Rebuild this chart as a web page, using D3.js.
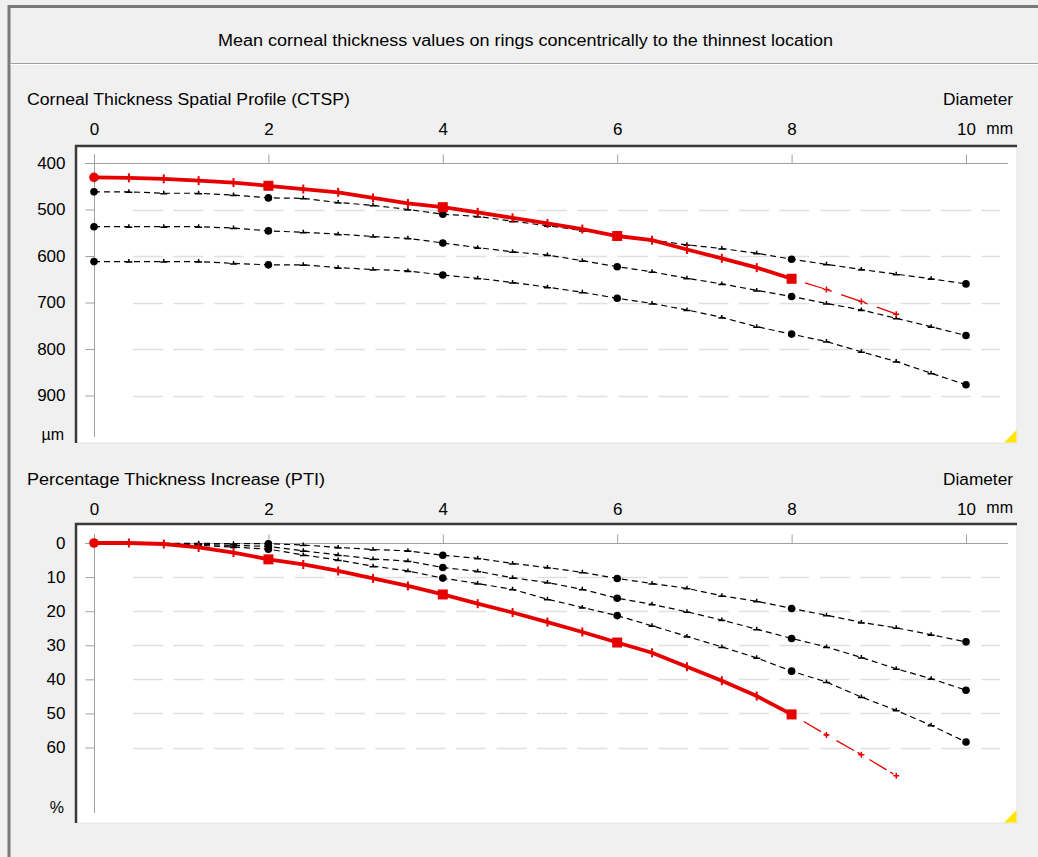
<!DOCTYPE html>
<html>
<head>
<meta charset="utf-8">
<script src="https://cdn.jsdelivr.net/npm/d3@7"></script>
<style>
  body { margin: 0; background: #f0f0f0; }
  svg { display: block; font-family: "Liberation Sans", Arial, sans-serif; }
  .tick text { font-size: 17px; fill: #000; }
</style>
</head>
<body>
<svg id="chart" width="1038" height="857"></svg>
<script>
// ring diameters in mm (every 0.4 mm)
var diameters = [0, 0.4, 0.8, 1.2, 1.6, 2, 2.4, 2.8, 3.2, 3.6, 4, 4.4, 4.8, 5.2, 5.6, 6,
  6.4, 6.8, 7.2, 7.6, 8, 8.4, 8.8, 9.2, 9.6, 10];
var extDiameters = [8, 8.4, 8.8, 9.2];
var xTicks = [0, 2, 4, 6, 8, 10];

// CTSP, micrometres
var ctspTicks = [400, 500, 600, 700, 800, 900];
var ctspPatient = [431, 432, 434, 438, 442, 449, 456, 463, 475, 487, 495, 506, 518, 530, 542, 557,
  566, 586, 605, 625, 649];
var ctspPatientExt = [649, 672, 698, 725];
var ctspNormA = [462, 462, 465, 465, 469, 475, 476, 485, 491, 500, 510, 515, 525, 535, 545, 556,
  566, 576, 584, 594, 607, 618, 629, 639, 649, 660];
var ctspNormB = [537, 537, 537, 537, 540, 546, 549, 553, 558, 562, 572, 582, 591, 598, 610, 623,
  634, 648, 660, 674, 687, 702, 716, 734, 752, 771];
var ctspNormC = [612, 612, 612, 612, 616, 619, 619, 625, 629, 632, 641, 648, 657, 667, 678, 691,
  702, 716, 732, 752, 768, 784, 806, 827, 852, 877];

// PTI, percent
var ptiTicks = [0, 10, 20, 30, 40, 50, 60];
var ptiPatient = [0, 0, 0.3, 1.3, 2.8, 4.8, 6.3, 8.2, 10.4, 12.6, 15.1, 17.8, 20.4, 23.2, 26.1, 29.2,
  32.2, 36.3, 40.4, 44.9, 50.3];
var ptiPatientExt = [50.3, 56.3, 62.1, 68.3];
var ptiNormA = [0, 0, 0.1, 0.1, 0.2, 0.2, 0.6, 1.3, 1.9, 2.3, 3.6, 4.5, 6, 7.2, 8.6, 10.4,
  11.9, 13.3, 15.5, 17.1, 19.2, 21.2, 23.3, 24.9, 26.9, 29];
var ptiNormB = [0, 0, 0.2, 0.4, 0.7, 1.0, 2.3, 3.5, 4.7, 5.3, 7.2, 8.3, 10.2, 11.6, 13.6, 16.2,
  18, 20.2, 22.6, 25.3, 28, 30.5, 33.6, 36.9, 39.8, 43.2];
var ptiNormC = [0, 0, 0.3, 0.7, 1.2, 1.8, 3.5, 5, 6.8, 8.2, 10.3, 11.9, 13.6, 16.5, 18.9, 21.3,
  24.3, 27.4, 30.5, 33.7, 37.6, 40.8, 45.2, 49.1, 53.5, 58.4];

var svg = d3.select("#chart");
var red = "#e60000";

// window frame + title strip
svg.append("path").attr("d", "M9,857V6.5H1038")
  .attr("fill", "none").attr("stroke", "#7a7a7a").attr("stroke-width", 3);
svg.append("line").attr("x1", 10.5).attr("x2", 1038).attr("y1", 63.5).attr("y2", 63.5)
  .attr("stroke", "#a0a0a0");
svg.append("line").attr("x1", 10.5).attr("x2", 1038).attr("y1", 64.5).attr("y2", 64.5)
  .attr("stroke", "#fff");
svg.append("text").attr("x", 218).attr("y", 46)
  .attr("textLength", 615).attr("lengthAdjust", "spacingAndGlyphs")
  .style("font-size", "16px")
  .text("Mean corneal thickness values on rings concentrically to the thinnest location");

var x = d3.scaleLinear().domain([0, 10]).range([94, 966]);

function isBig(d) { return d % 2 === 0; }

// one chart panel
function drawPanel(p) {
  var g = svg.append("g");
  var y = d3.scaleLinear().domain(p.domain).range(p.range);

  g.append("text").attr("x", 27).attr("y", p.titleY)
    .attr("textLength", p.titleW).attr("lengthAdjust", "spacingAndGlyphs")
    .style("font-size", "16px").text(p.title);
  g.append("text").attr("x", 1013).attr("y", p.titleY).attr("text-anchor", "end")
    .attr("textLength", 70).attr("lengthAdjust", "spacingAndGlyphs")
    .style("font-size", "16px").text("Diameter");
  g.append("text").attr("x", 1013).attr("y", p.tickY).attr("text-anchor", "end")
    .style("font-size", "16px").text("mm");

  // plot box with sunken border
  g.append("rect").attr("x", 76).attr("y", p.top).attr("width", 941).attr("height", p.bottom - p.top)
    .attr("fill", "#fff").attr("stroke", "#e3e3e3");
  g.append("path").attr("d", "M76," + p.bottom + "V" + (p.top + 1) + "H1017")
    .attr("fill", "none").attr("stroke", "#3a3a3a").attr("stroke-width", 2.5);
  g.append("path")
    .attr("d", "M1004," + (p.bottom - 0.5) + "L1016.5," + (p.bottom - 0.5) + "L1016.5," + (p.bottom - 13) + "Z")
    .attr("fill", "#ffe600");

  // dashed grid
  g.selectAll(".grid").data(p.ticks.slice(1)).enter().append("line")
    .attr("x1", 133).attr("x2", 1000)
    .attr("y1", function(d) { return Math.round(y(d)) + 0.5; })
    .attr("y2", function(d) { return Math.round(y(d)) + 0.5; })
    .attr("stroke", "#e0e0e0").attr("stroke-width", 1.3).attr("stroke-dasharray", "30,10.4");

  // axis lines
  g.append("line").attr("x1", 85).attr("x2", 1008).attr("y1", p.axisY + 0.5).attr("y2", p.axisY + 0.5)
    .attr("stroke", "#a0a0a0");
  g.append("line").attr("x1", 94.5).attr("x2", 94.5).attr("y1", p.axisY - 9).attr("y2", p.axisEnd)
    .attr("stroke", "#a0a0a0");

  var xAxis = g.append("g").attr("transform", "translate(0," + (p.axisY + 0.5) + ")")
    .call(d3.axisTop(x).tickValues(xTicks).tickSize(9).tickPadding(20).tickFormat(d3.format("d")));
  var yAxis = g.append("g").attr("transform", "translate(94.5,0)")
    .call(d3.axisLeft(y).tickValues(p.ticks).tickSize(9).tickPadding(20).tickFormat(d3.format("d")));
  [xAxis, yAxis].forEach(function(a) {
    a.select(".domain").remove();
    a.selectAll(".tick line").attr("stroke", "#a0a0a0");
    a.selectAll("text").attr("font-family", null).attr("font-size", null);
  });
  xAxis.selectAll(".tick text").attr("dy", 0);
  g.append("text").attr("x", 64).attr("y", p.unitY).attr("text-anchor", "end")
    .style("font-size", "16px").text(p.unit);

  // normal population curves (dashed black)
  var line = d3.line().x(function(d) { return x(d[0]); }).y(function(d) { return y(d[1]); });
  p.norms.forEach(function(s) {
    var pts = diameters.map(function(d, i) { return [d, s[i]]; });
    g.append("path").datum(pts).attr("d", line)
      .attr("fill", "none").attr("stroke", "#000").attr("stroke-width", 1.2)
      .attr("stroke-dasharray", "6,4");
    g.selectAll(null).data(pts.filter(function(d) { return !isBig(d[0]); })).enter().append("path")
      .attr("transform", function(d) { return "translate(" + x(d[0]) + "," + y(d[1]) + ")"; })
      .attr("d", "M-3.5,0.5H3.5M0,0.5V-2.5").attr("stroke", "#000").attr("stroke-width", 1.5);
    g.selectAll(null).data(pts.filter(function(d) { return isBig(d[0]); })).enter().append("circle")
      .attr("cx", function(d) { return x(d[0]); }).attr("cy", function(d) { return y(d[1]); })
      .attr("r", 3.8).attr("fill", "#000");
  });

  // patient curve (red)
  var ext = extDiameters.map(function(d, i) { return [d, p.patientExt[i]]; });
  g.append("path").datum(ext).attr("d", line)
    .attr("fill", "none").attr("stroke", red).attr("stroke-width", 1.3)
    .attr("stroke-dasharray", "4,10,20,4");
  g.selectAll(null).data(ext.slice(1)).enter().append("path")
    .attr("transform", function(d) { return "translate(" + x(d[0]) + "," + y(d[1]) + ")"; })
    .attr("d", "M0,-3V3M-3,0H3").attr("stroke", red).attr("stroke-width", 1.5);

  var pts = diameters.slice(0, p.patient.length).map(function(d, i) { return [d, p.patient[i]]; });
  g.append("path").datum(pts).attr("d", line)
    .attr("fill", "none").attr("stroke", red).attr("stroke-width", 3.8);
  g.selectAll(null).data(pts.filter(function(d) { return !isBig(d[0]); })).enter().append("path")
    .attr("transform", function(d) { return "translate(" + x(d[0]) + "," + y(d[1]) + ")"; })
    .attr("d", "M0,-4.5V4.5").attr("stroke", red).attr("stroke-width", 2);
  g.selectAll(null).data(pts.filter(function(d) { return isBig(d[0]) && d[0] > 0; })).enter().append("rect")
    .attr("x", function(d) { return x(d[0]) - 5; }).attr("y", function(d) { return y(d[1]) - 5; })
    .attr("width", 10).attr("height", 10).attr("fill", red);
  g.append("circle").attr("cx", x(pts[0][0])).attr("cy", y(pts[0][1])).attr("r", 4.8).attr("fill", red);
}

drawPanel({
  title: "Corneal Thickness Spatial Profile (CTSP)", titleW: 323, titleY: 105, tickY: 134,
  top: 145, bottom: 443, axisY: 163, axisEnd: 437,
  domain: [400, 900], range: [163, 395.5], ticks: ctspTicks,
  unit: "\u00b5m", unitY: 440,
  patient: ctspPatient, patientExt: ctspPatientExt,
  norms: [ctspNormA, ctspNormB, ctspNormC]
});

drawPanel({
  title: "Percentage Thickness Increase (PTI)", titleW: 298, titleY: 485, tickY: 513,
  top: 523, bottom: 823, axisY: 543, axisEnd: 813,
  domain: [0, 60], range: [543, 747.5], ticks: ptiTicks,
  unit: "%", unitY: 813,
  patient: ptiPatient, patientExt: ptiPatientExt,
  norms: [ptiNormA, ptiNormB, ptiNormC]
});
</script>
</body>
</html>
